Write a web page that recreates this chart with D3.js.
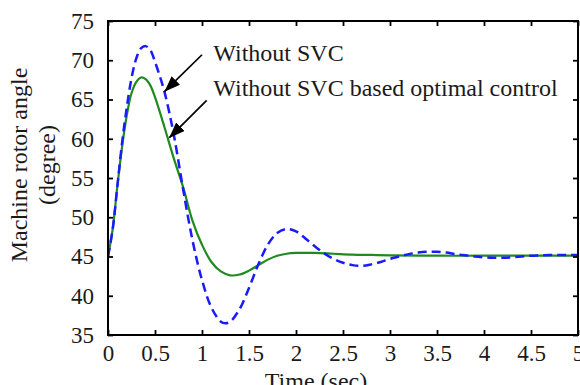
<!DOCTYPE html>
<html>
<head>
<meta charset="utf-8">
<script src="https://cdn.jsdelivr.net/npm/d3@7"></script>
<style>
  body { margin: 0; background: #fff; }
  text { font-family: "Liberation Serif", "Times New Roman", serif; fill: #1a1a1a; }
</style>
</head>
<body>
<script>
// time samples (sec)
const timeWithout = [0, 0.05, 0.1, 0.15, 0.2, 0.25, 0.3, 0.35, 0.4, 0.45, 0.5, 0.6, 0.7, 0.8, 0.9, 1.0, 1.1, 1.2, 1.25, 1.3, 1.4, 1.5, 1.6, 1.7, 1.8, 1.9, 2.0, 2.1, 2.2, 2.3, 2.4, 2.5, 2.6, 2.7, 2.8, 2.9, 3.0, 3.1, 3.2, 3.3, 3.4, 3.5, 3.6, 3.7, 3.8, 3.9, 4.0, 4.1, 4.2, 4.3, 4.4, 4.5, 4.6, 4.7, 4.8, 4.9, 5.0];
const angleWithout = [45, 48.5, 54, 59.5, 64, 67.7, 70.2, 71.5, 71.8, 71.3, 69.8, 66, 60.5, 53.5, 47, 42, 38.5, 36.7, 36.5, 36.7, 38.3, 41, 44, 46.5, 48, 48.5, 48.2, 47.3, 46.3, 45.4, 44.7, 44.2, 43.9, 43.8, 44, 44.3, 44.7, 45, 45.3, 45.5, 45.6, 45.6, 45.5, 45.3, 45.15, 45, 44.9, 44.85, 44.85, 44.9, 45, 45.1, 45.15, 45.2, 45.2, 45.2, 45.2];

const timeOptimal = [0, 0.05, 0.1, 0.15, 0.2, 0.25, 0.3, 0.35, 0.4, 0.45, 0.5, 0.6, 0.7, 0.8, 0.9, 1.0, 1.1, 1.2, 1.3, 1.4, 1.5, 1.6, 1.7, 1.8, 1.9, 2.0, 2.2, 2.4, 2.6, 2.8, 3.0, 3.5, 4.0, 4.5, 5.0];
const angleOptimal = [45, 48.5, 54, 59, 63, 65.8, 67.2, 67.8, 67.6, 66.8, 65.3, 61.5, 57.5, 53.8, 49.5, 46.5, 44.3, 43.1, 42.6, 42.7, 43.2, 43.9, 44.6, 45.1, 45.35, 45.45, 45.45, 45.35, 45.25, 45.2, 45.15, 45.1, 45.1, 45.1, 45.1];

const xTicks = [0, 0.5, 1, 1.5, 2, 2.5, 3, 3.5, 4, 4.5, 5];
const yTicks = [35, 40, 45, 50, 55, 60, 65, 70, 75];

// annotation labels and arrows, in data units
const labels = ["Without SVC", "Without SVC based optimal control"];
const labelAt = [[1.12, 69.9], [1.12, 65.4]];
const arrowFrom = [[1.0, 70.7], [1.05, 64.9]];
const arrowTo = [[0.6, 66.0], [0.65, 60.1]];

const width = 580;
const height = 385;
const margin = { top: 21, right: 2, bottom: 50, left: 108 };

const svg = d3.select('body')
    .append('svg')
    .attr('width', width)
    .attr('height', height);

const x = d3.scaleLinear().domain([0, 5]).range([margin.left, width - margin.right]);
const y = d3.scaleLinear().domain([35, 75]).range([height - margin.bottom, margin.top]);

svg.append('defs')
    .append('marker')
    .attr('id', 'head')
    .attr('viewBox', '0 0 16 12')
    .attr('refX', 16)
    .attr('refY', 6)
    .attr('markerWidth', 16)
    .attr('markerHeight', 12)
    .attr('markerUnits', 'userSpaceOnUse')
    .attr('orient', 'auto')
    .append('path')
    .attr('d', 'M0,0L16,6L0,12Z')
    .attr('fill', '#000');

svg.append('clipPath').attr('id', 'plot')
    .append('rect')
    .attr('x', margin.left)
    .attr('y', margin.top)
    .attr('width', width - margin.left - margin.right)
    .attr('height', height - margin.top - margin.bottom);

const line = d3.line()
    .x((d) => x(d[0]))
    .y((d) => y(d[1]))
    .curve(d3.curveCatmullRom);

const plot = svg.append('g').attr('clip-path', 'url(#plot)');

plot.append('path')
    .attr('d', line(timeOptimal.map((t, i) => [t, angleOptimal[i]])))
    .attr('fill', 'none')
    .attr('stroke', '#1f8a1f')
    .attr('stroke-width', 2.2);

plot.append('path')
    .attr('d', line(timeWithout.map((t, i) => [t, angleWithout[i]])))
    .attr('fill', 'none')
    .attr('stroke', '#1a1aff')
    .attr('stroke-width', 2.5)
    .attr('stroke-dasharray', '9,5');

// axes (ticks inside, on all four sides)
const fontSize = 23;

svg.append('g')
    .attr('transform', `translate(0,${height - margin.bottom})`)
    .call(d3.axisBottom(x).tickValues(xTicks).tickFormat(d3.format('')).tickSize(-5).tickSizeOuter(0).tickPadding(10));
svg.append('g')
    .attr('transform', `translate(0,${margin.top})`)
    .call(d3.axisTop(x).tickValues(xTicks).tickFormat('').tickSize(-5).tickSizeOuter(0));
svg.append('g')
    .attr('transform', `translate(${margin.left},0)`)
    .call(d3.axisLeft(y).tickValues(yTicks).tickSize(-5).tickSizeOuter(0).tickPadding(14));
svg.append('g')
    .attr('transform', `translate(${width - margin.right},0)`)
    .call(d3.axisRight(y).tickValues(yTicks).tickFormat('').tickSize(-5).tickSizeOuter(0));

svg.selectAll('.domain').remove();
svg.selectAll('.tick line').attr('stroke', '#000').attr('stroke-width', 1.8);
svg.selectAll('.tick text')
    .attr('font-family', '"Liberation Serif", serif')
    .attr('font-size', fontSize)
    .attr('fill', '#1a1a1a');

svg.append('rect')
    .attr('x', margin.left)
    .attr('y', margin.top)
    .attr('width', width - margin.left - margin.right)
    .attr('height', height - margin.top - margin.bottom)
    .attr('fill', 'none')
    .attr('stroke', '#000')
    .attr('stroke-width', 2);

// axis titles
svg.append('text')
    .attr('x', 316)
    .attr('y', 389)
    .attr('text-anchor', 'middle')
    .attr('font-size', 24)
    .text('Time (sec)');

svg.append('text')
    .attr('transform', 'translate(27,165) rotate(-90)')
    .attr('text-anchor', 'middle')
    .attr('font-size', 24)
    .text('Machine rotor angle');
svg.append('text')
    .attr('transform', 'translate(55,165) rotate(-90)')
    .attr('text-anchor', 'middle')
    .attr('font-size', 24)
    .text('(degree)');

// annotations
svg.append('g')
    .selectAll('line')
    .data(arrowFrom)
    .join('line')
    .attr('x1', (d) => x(d[0]))
    .attr('y1', (d) => y(d[1]))
    .attr('x2', (d, i) => x(arrowTo[i][0]))
    .attr('y2', (d, i) => y(arrowTo[i][1]))
    .attr('stroke', '#000')
    .attr('stroke-width', 1.7)
    .attr('marker-end', 'url(#head)');

svg.append('g')
    .selectAll('text')
    .data(labels)
    .join('text')
    .attr('x', (d, i) => x(labelAt[i][0]))
    .attr('y', (d, i) => y(labelAt[i][1]))
    .attr('font-size', 24)
    .text((d) => d);
</script>
</body>
</html>
